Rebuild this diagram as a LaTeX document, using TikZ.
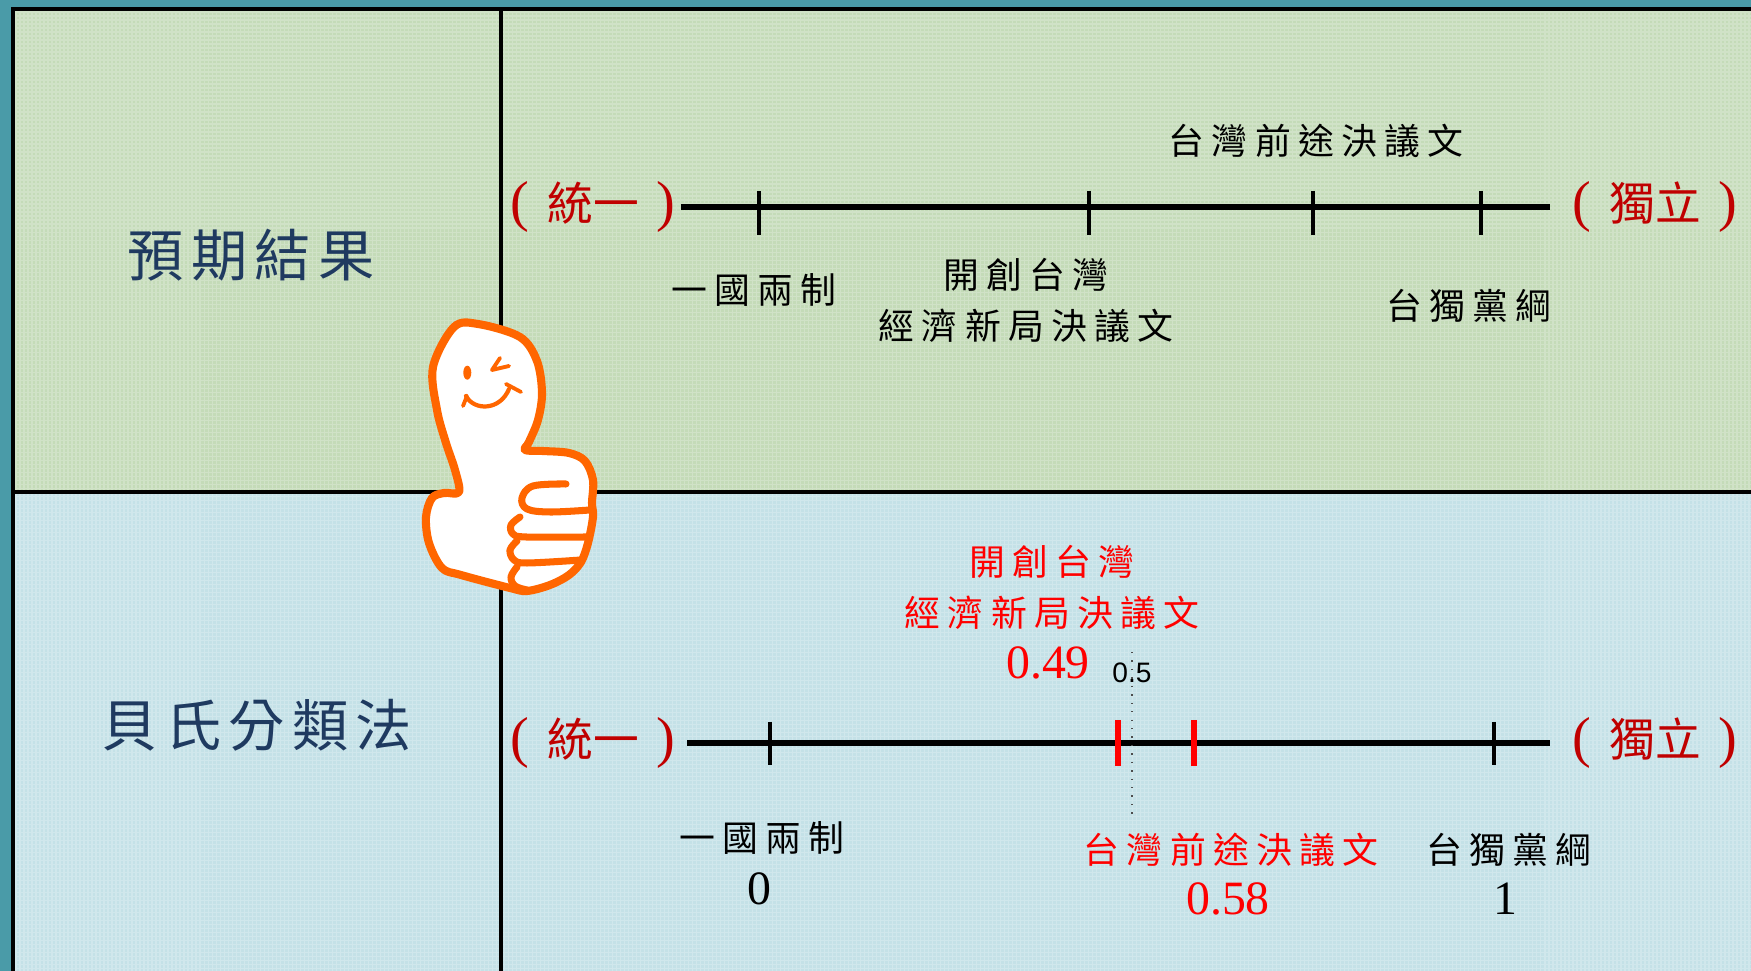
\documentclass[tikz,border=0pt]{standalone}
\usepackage{fontspec}
\setmainfont{Liberation Serif}
\newfontfamily\cjkfont[LetterSpace=20]{Noto Sans CJK TC}
\newfontfamily\cjkhead[LetterSpace=13]{Noto Sans CJK TC}
\newfontfamily\cjkpole{Noto Sans CJK TC}
\newfontfamily\sansfont{Liberation Sans}

\definecolor{framecol}{RGB}{74,155,168}
\definecolor{topcell}{RGB}{196,219,184}
\definecolor{bottomcell}{RGB}{196,225,231}
\definecolor{headblue}{RGB}{31,58,96}
\definecolor{poledark}{RGB}{192,0,0}
\definecolor{thumborange}{RGB}{255,102,0}

% end labels of the scale: thin tall brackets round the words
\newcommand{\poleword}[1]{{\fontsize{16pt}{18pt}\selectfont(}\hspace{5pt}{\cjkpole\fontsize{13pt}{15pt}\selectfont #1}\hspace{5pt}{\fontsize{16pt}{18pt}\selectfont)}}

\begin{document}
\begin{tikzpicture}[x=0.01cm, y=-0.01cm,
  every node/.style={inner sep=0pt},
  headtext/.style={font=\cjkhead\fontsize{16pt}{18pt}\selectfont, text=headblue},
  poletag/.style={text=poledark},
  cjktag/.style={font=\cjkfont\fontsize{10.2pt}{12pt}\selectfont},
  numtag/.style={font=\fontsize{13.6pt}{16pt}\selectfont},
  axisline/.style={line width=1.7pt},
  tickmark/.style={line width=1.3pt},
  redtick/.style={line width=1.6pt, red},
  thumbline/.style={thumborange, line width=2.3pt, line join=round, line cap=round}]

  % background and table cells
  \useasboundingbox (0,0) rectangle (1751,971);
  \fill[framecol] (0,0) rectangle (1751,971);
  \fill[topcell] (13,9) rectangle (1751,492);
  \fill[bottomcell] (13,492) rectangle (1751,971);
  \draw[white, opacity=0.22, line width=0.35pt, step=0.4mm] (13,9) grid (1751,971);
  \draw[line width=0.9pt] (1751,9) -- (13,9) -- (13,971);
  \draw[line width=0.9pt] (501,9) -- (501,971);
  \draw[line width=0.9pt] (13,492) -- (1751,492);

  % upper row
  \node[headtext] (expect) at (251,255) {預期結果};
  \node[poletag] (uniA) at (593,207) {\poleword{統一}};
  \node[poletag] (indA) at (1655,207) {\poleword{獨立}};
  \coordinate (a0) at (681,207);
  \coordinate (a1) at (1550,207);
  \draw[axisline] (a0) -- (a1);
  \foreach \x in {759,1089,1313,1481} \draw[tickmark] (\x,191) -- (\x,235);
  \node[cjktag] (qtA) at (1316,141) {台灣前途決議文};
  \node[cjktag] (ocA) at (754,290) {一國兩制};
  \node[cjktag] (ktA) at (1026,275) {開創台灣};
  \node[cjktag] (jjA) at (1026,326) {經濟新局決議文};
  \node[cjktag] (tdA) at (1469,306) {台獨黨綱};

  % lower row
  \node[headtext] (bayes) at (257,725) {貝氏分類法};
  \node[poletag] (uniB) at (593,743) {\poleword{統一}};
  \node[poletag] (indB) at (1655,743) {\poleword{獨立}};
  \coordinate (b0) at (687,743);
  \coordinate (b1) at (1550,743);
  \draw[axisline] (b0) -- (b1);
  \foreach \x in {770,1494} \draw[tickmark] (\x,722) -- (\x,765);
  \foreach \x in {1118,1194} \draw[redtick] (\x,720) -- (\x,766);
  \coordinate (half0) at (1132,652);
  \coordinate (half1) at (1132,815);
  \draw[dotted, line width=0.4pt, black!70] (half0) -- (half1);
  \node[font=\sansfont\fontsize{8pt}{9pt}\selectfont] (half) at (1132,673) {0.5};
  \node[cjktag, text=red] (ktB) at (1052,562) {開創台灣};
  \node[cjktag, text=red] (jjB) at (1052,613) {經濟新局決議文};
  \node[numtag, text=red] (vkt) at (1048,663) {0.49};
  \node[cjktag] (ocB) at (762,838) {一國兩制};
  \node[numtag] (voc) at (759,889) {0};
  \node[cjktag, text=red] (qtB) at (1231,850) {台灣前途決議文};
  \node[numtag, text=red] (vqt) at (1228,899) {0.58};
  \node[cjktag] (tdB) at (1509,850) {台獨黨綱};
  \node[numtag] (vtd) at (1505,899) {1};

  % thumbs-up
  \filldraw[thumbline, fill=white] plot[smooth cycle, tension=0.55] coordinates {
    (433,367) (454,327) (478,324) (520,337) (537,361) (542,393) (538,420)
    (529,442) (525,450) (543,451) (569,453) (585,461) (593,480) (592,503)
    (593,517) (588,543) (581,562) (569,575) (550,585) (527,591) (510,588)
    (461,575) (442,568) (429,543) (426,517) (432,498) (444,493) (459,492)
    (455,470) (446,443) (437,410)};
  \draw[thumbline, line width=2pt] plot[smooth, tension=0.6] coordinates {
    (566,484) (533,486) (522,498) (527,509) (550,512) (590,510)};
  \draw[thumbline, line width=2pt] plot[smooth, tension=0.6] coordinates {
    (520,517) (511,525) (513,534) (526,537) (586,537)};
  \draw[thumbline, line width=2pt] plot[smooth, tension=0.6] coordinates {
    (517,541) (510,550) (514,560) (527,563) (581,560)};
  \draw[thumbline, line width=2pt] plot[smooth, tension=0.6] coordinates {
    (517,567) (511,577) (515,586) (527,590)};
  \fill[thumborange] (467.3,372.7) ellipse [x radius=4, y radius=7];
  \draw[thumbline, line width=1.1pt] (500,358) -- (492,370) -- (509,366);
  \draw[thumbline, line width=1.2pt] (466,396) .. controls (474,411) and (500,411) .. (509,389);
  \draw[thumbline, line width=1.1pt] (463,406) -- (467,396);
  \draw[thumbline, line width=1.1pt] (506,384) -- (521,392);
\end{tikzpicture}
\end{document}
